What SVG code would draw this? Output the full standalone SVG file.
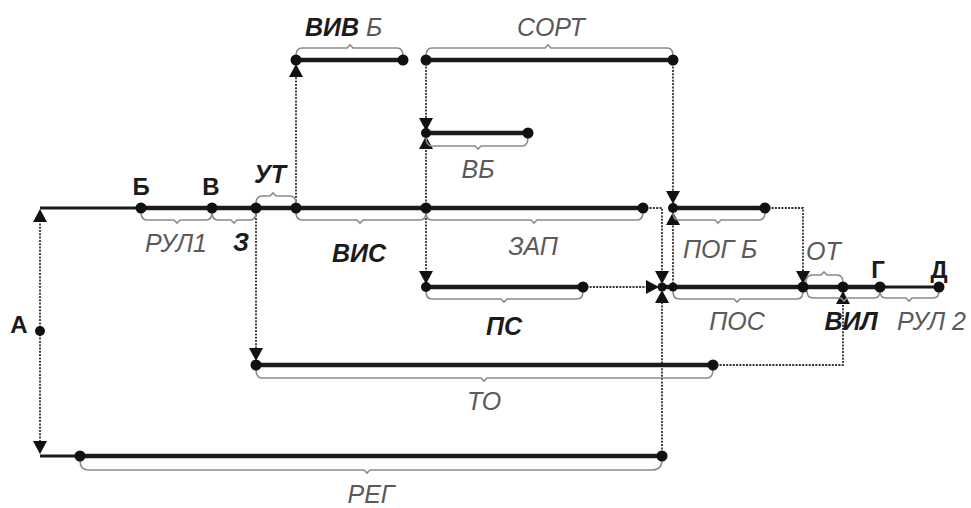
<svg xmlns="http://www.w3.org/2000/svg" xmlns:xlink="http://www.w3.org/1999/xlink" width="971" height="508" viewBox="0 0 971 508">
<style>
.act{stroke:#1b1b1b;stroke-width:4.5;fill:none;stroke-linecap:butt}
.thin{stroke:#1b1b1b;stroke-width:3;fill:none}
.dep{stroke:#333;stroke-width:1.8;fill:none;stroke-dasharray:2 1.3}
.br{stroke:#8a8a8a;stroke-width:1.6;fill:none}
.ev{fill:#111}
text{font-family:"Liberation Sans",Arial,sans-serif;font-style:italic;font-size:25px}
.b{font-weight:bold;fill:#1b1b1b}
.g{fill:#5a5a5a}
.e{font-style:normal;font-weight:bold;fill:#1b1b1b;font-size:24px}
</style>
<defs>
<path id="ad" d="M0,0 L-7,-13 L7,-13 Z" fill="#111"/>
<path id="au" d="M0,0 L-7,13 L7,13 Z" fill="#111"/>
<path id="ar" d="M0,0 L-13,-7 L-13,7 Z" fill="#111"/>
</defs>
<rect width="971" height="508" fill="#fff"/>

<g id="connectors">
<path class="thin" d="M40,208 H141"/>
<path class="thin" d="M40,456 H80"/>
<path class="thin" d="M880,287 H939"/>
<path class="dep" d="M40,331 V214"/>
<path class="dep" d="M40,331 V450"/>
<path class="dep" d="M296,208 V70"/>
<path class="dep" d="M426,60 V124"/>
<path class="dep" d="M426,208 V142"/>
<path class="dep" d="M426,208 V278"/>
<path class="dep" d="M256,208 V355"/>
<path class="dep" d="M673,60 V198"/>
<path class="dep" d="M673,287 V218"/>
<path class="dep" d="M643,208 H662 V278"/>
<path class="dep" d="M583,287 H652"/>
<path class="dep" d="M662,456 V296"/>
<path class="dep" d="M765,208 H803 V278"/>
<path class="dep" d="M713,365 H843 V296"/>
<use href="#au" x="40" y="209"/>
<use href="#ad" x="40" y="454"/>
<use href="#au" x="296" y="64"/>
<use href="#ad" x="426" y="131"/>
<use href="#au" x="426" y="136"/>
<use href="#ad" x="426" y="284"/>
<use href="#ad" x="256" y="361"/>
<use href="#ad" x="673" y="204"/>
<use href="#au" x="673" y="212"/>
<use href="#ad" x="662" y="284"/>
<use href="#ar" x="659" y="287"/>
<use href="#au" x="662" y="290"/>
<use href="#ad" x="803" y="284"/>
<use href="#au" x="843" y="291"/>
</g>

<g id="act-rul1"><path class="act" d="M141,208 H212"/><path class="br" d="M141,212 Q141,220 147,220 H174 L177,223 L180,220 H206 Q212,220 212,212"/><text class="g" x="176" y="252" text-anchor="middle">РУЛ1</text></g>
<g id="act-z"><path class="act" d="M212,208 H256"/><path class="br" d="M212,212 Q212,220 218,220 H231 L234,223 L237,220 H250 Q256,220 256,212"/><text class="b" x="241" y="251" text-anchor="middle">З</text></g>
<g id="act-ut"><path class="act" d="M256,208 H296"/><path class="br" d="M256,204 Q256,196 262,196 H270 L273,193 L276,196 H290 Q296,196 296,204"/><text class="b" x="270" y="183" text-anchor="middle">УТ</text></g>
<g id="act-vis"><path class="act" d="M296,208 H426"/><path class="br" d="M296,212 Q296,220 302,220 H357 L360,223 L363,220 H420 Q426,220 426,212"/><text class="b" x="359" y="262" text-anchor="middle">ВИС</text></g>
<g id="act-zap"><path class="act" d="M426,208 H643"/><path class="br" d="M426,212 Q426,220 432,220 H531 L534,223 L537,220 H637 Q643,220 643,212"/><text class="g" x="533" y="255" text-anchor="middle">ЗАП</text></g>
<g id="act-vivb"><path class="act" d="M296,60 H403"/><path class="br" d="M296,56 Q296,48 302,48 H347 L350,45 L353,48 H397 Q403,48 403,56"/><text x="305" y="36"><tspan class="b">ВИВ</tspan><tspan class="g"> Б</tspan></text></g>
<g id="act-sort"><path class="act" d="M426,60 H673"/><path class="br" d="M426,56 Q426,48 432,48 H545 L548,45 L551,48 H667 Q673,48 673,56"/><text class="g" x="551" y="36" text-anchor="middle">СОРТ</text></g>
<g id="act-vb"><path class="act" d="M426,133 H528"/><path class="br" d="M426,137 Q426,146 432,146 H475 L478,149 L481,146 H522 Q528,146 528,137"/><text class="g" x="478" y="178" text-anchor="middle">ВБ</text></g>
<g id="act-ps"><path class="act" d="M426,287 H583"/><path class="br" d="M426,291 Q426,299 432,299 H501 L504,302 L507,299 H577 Q583,299 583,291"/><text class="b" x="504" y="335" text-anchor="middle">ПС</text></g>
<g id="act-pogb"><path class="act" d="M673,208 H765"/><path class="br" d="M673,212 Q673,220 679,220 H715 L718,223 L721,220 H759 Q765,220 765,212"/><text class="g" x="683" y="258">ПОГ Б</text></g>
<g id="act-pos"><path class="act" d="M662,287 H803"/><path class="br" d="M673,291 Q673,299 679,299 H734 L737,302 L740,299 H797 Q803,299 803,291"/><text class="g" x="737" y="330" text-anchor="middle">ПОС</text></g>
<g id="act-ot"><path class="act" d="M803,287 H843"/><path class="br" d="M806,283 Q806,275 812,275 H821 L824,272 L827,275 H837 Q843,275 843,283"/><text class="g" x="806" y="260">ОТ</text></g>
<g id="act-vil"><path class="act" d="M843,287 H880"/><path class="br" d="M807,291 Q807,298 813,298 H841 L844,301 L847,298 H874 Q880,298 880,291"/><text class="b" x="851" y="330" text-anchor="middle">ВИЛ</text></g>
<g id="act-rul2"><path class="br" d="M880,291 Q880,298 886,298 H906 L909,301 L912,298 H933 Q939,298 939,291"/><text class="g" x="897" y="330">РУЛ 2</text></g>
<g id="act-to"><path class="act" d="M256,365 H713"/><path class="br" d="M256,369 Q256,378 262,378 H481 L484,381 L487,378 H707 Q713,378 713,369"/><text class="g" x="484" y="410" text-anchor="middle">ТО</text></g>
<g id="act-reg"><path class="act" d="M80,456 H662"/><path class="br" d="M80,460 Q80,470 88,470 H364 L367,473 L370,470 H652 Q662,470 662,460"/><text class="g" x="371" y="503" text-anchor="middle">РЕГ</text></g>

<g id="ev-a"><circle class="ev" cx="40" cy="331" r="5"/><text class="e" x="19" y="333" text-anchor="middle">А</text></g>
<g id="ev-b"><circle class="ev" cx="141" cy="208" r="5.5"/><text class="e" x="141" y="195" text-anchor="middle">Б</text></g>
<g id="ev-v"><circle class="ev" cx="212" cy="208" r="5.5"/><text class="e" x="211" y="195" text-anchor="middle">В</text></g>
<g id="ev-3"><circle class="ev" cx="256" cy="208" r="5.5"/></g>
<g id="ev-4"><circle class="ev" cx="296" cy="208" r="5.5"/></g>
<g id="ev-5"><circle class="ev" cx="426" cy="208" r="5.5"/></g>
<g id="ev-6"><circle class="ev" cx="643" cy="208" r="5.5"/></g>
<g id="ev-7"><circle class="ev" cx="296" cy="60" r="5.5"/></g>
<g id="ev-8"><circle class="ev" cx="403" cy="60" r="5.5"/></g>
<g id="ev-9"><circle class="ev" cx="426" cy="60" r="5.5"/></g>
<g id="ev-10"><circle class="ev" cx="673" cy="60" r="5.5"/></g>
<g id="ev-11"><circle class="ev" cx="426" cy="133" r="5"/></g>
<g id="ev-12"><circle class="ev" cx="528" cy="133" r="5.5"/></g>
<g id="ev-13"><circle class="ev" cx="673" cy="208" r="5"/></g>
<g id="ev-14"><circle class="ev" cx="765" cy="208" r="5.5"/></g>
<g id="ev-15"><circle class="ev" cx="426" cy="287" r="5"/></g>
<g id="ev-16"><circle class="ev" cx="583" cy="287" r="5.5"/></g>
<g id="ev-17"><circle class="ev" cx="662" cy="287" r="4.5"/><circle class="ev" cx="673" cy="287" r="4.5"/></g>
<g id="ev-18"><circle class="ev" cx="803" cy="287" r="5.5"/></g>
<g id="ev-19"><circle class="ev" cx="843" cy="287" r="5.5"/></g>
<g id="ev-g"><circle class="ev" cx="880" cy="287" r="5.5"/><text class="e" x="878" y="278" text-anchor="middle">Г</text></g>
<g id="ev-d"><circle class="ev" cx="939" cy="287" r="5.5"/><text class="e" x="939" y="278" text-anchor="middle">Д</text></g>
<g id="ev-20"><circle class="ev" cx="256" cy="365" r="5.5"/></g>
<g id="ev-21"><circle class="ev" cx="713" cy="365" r="5.5"/></g>
<g id="ev-22"><circle class="ev" cx="80" cy="456" r="5.5"/></g>
<g id="ev-23"><circle class="ev" cx="662" cy="456" r="5.5"/></g>
</svg>
